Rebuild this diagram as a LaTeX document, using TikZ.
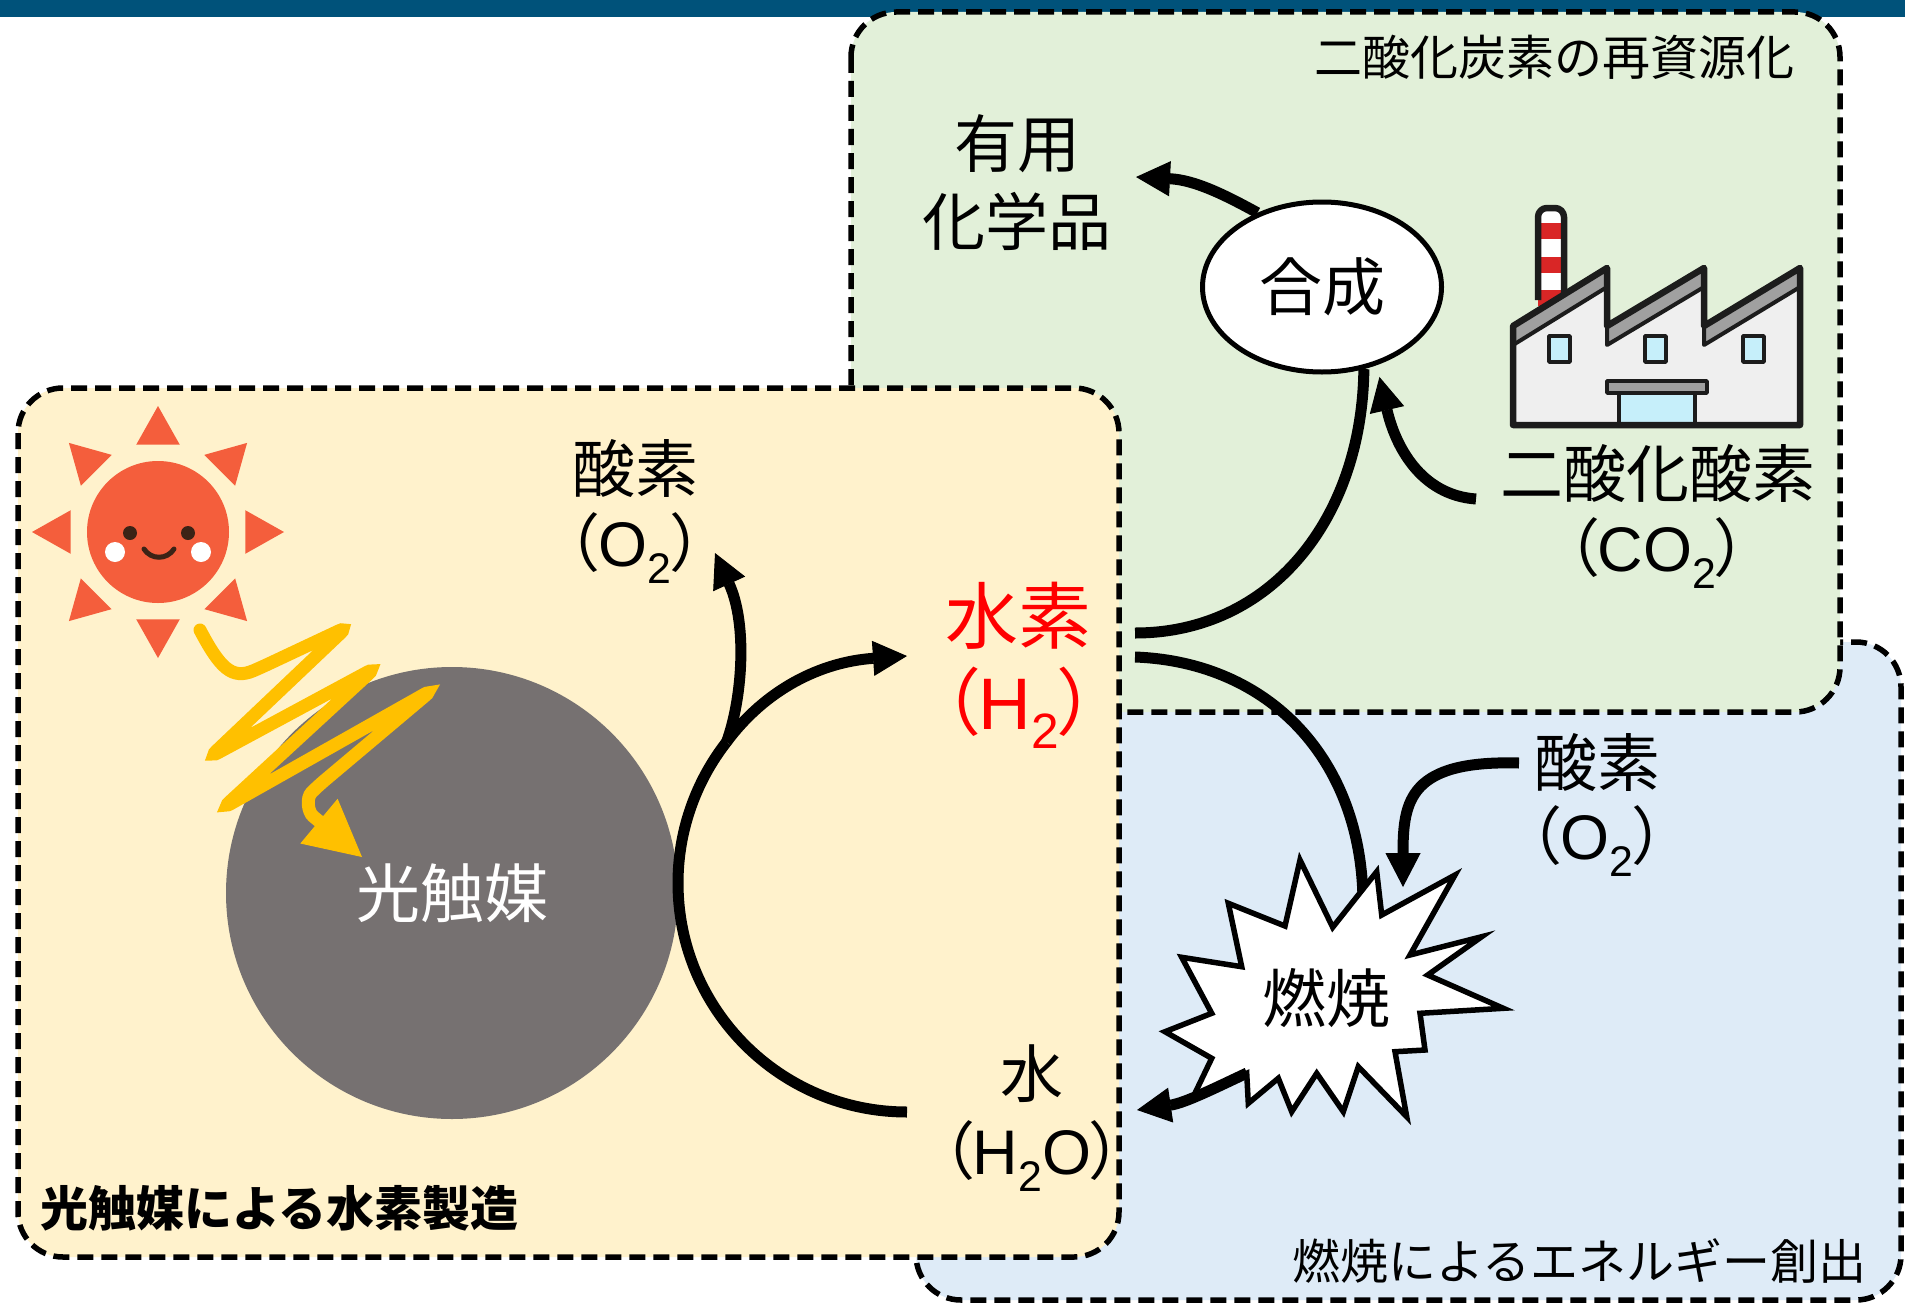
\documentclass[tikz,border=0pt]{standalone}
\usepackage{fontspec}
\setmainfont{Noto Sans CJK JP}
\newfontfamily\latin{Liberation Sans}
\newfontfamily\jpprop[RawFeature=+palt]{Noto Sans CJK JP}
\usetikzlibrary{arrows.meta,calc,shapes.geometric}
\pgfdeclarelayer{back}
\pgfdeclarelayer{mid}
\pgfdeclarelayer{links}
\pgfsetlayers{back,mid,links,main}

\definecolor{barblue}{HTML}{00527A}
\definecolor{zoneyellow}{HTML}{FFF2CC}
\definecolor{zonegreen}{HTML}{E2F0D9}
\definecolor{zoneblue}{HTML}{DEEBF7}
\definecolor{catgray}{HTML}{767171}
\definecolor{sunred}{HTML}{F45E3C}
\definecolor{sunface}{HTML}{3B2316}
\definecolor{rayyellow}{HTML}{FFC000}
\definecolor{ink}{HTML}{1C1C1C}
\definecolor{wall}{HTML}{EFEFEF}
\definecolor{roofgray}{HTML}{A0A0A0}
\definecolor{glass}{HTML}{C6EFFA}
\definecolor{stripe}{HTML}{D92626}

\newcommand\fs[1]{\fontsize{#1}{#1}\selectfont}
\newcommand\lpar{{\jpprop （}}
\newcommand\rpar{{\jpprop ）}}
\newcommand\lowidx[1]{\raisebox{-0.27em}{\scalebox{0.68}{#1}}}

\begin{document}
\begin{tikzpicture}[x=1pt,y=-1pt,
  zone/.style={draw=black, line width=5.5pt, dash pattern=on 16pt off 8pt, rounded corners=45pt},
  flow/.style={draw=black, line width=11pt},
  head/.style={-{Triangle[length=34pt,width=35pt,line width=1pt]}},
  lbl/.style={inner sep=0pt, anchor=base, font=\fs{63}},
  title/.style={inner sep=0pt, anchor=base, font=\fs{48}},
  factory/.style={draw=ink, line join=round}]

\useasboundingbox (0,0) rectangle (1905,1303);

% ---------- zones ----------
\begin{pgfonlayer}{back}
  \fill[white] (0,0) rectangle (1905,1303);
  \fill[barblue] (0,0) rectangle (1905,17);
  \draw[zone, fill=zoneblue] (916,642) rectangle (1901,1300);
  \draw[zone, fill=zonegreen] (851,12) rectangle (1840,712);
  \draw[zone, fill=zoneyellow] (18,388) rectangle (1119,1257);
\end{pgfonlayer}

\node[title] (tGreen) at (1554,76) {二酸化炭素の再資源化};
\node[title, anchor=base west, font=\fs{48}\bfseries] (tYellow) at (40,1226) {光触媒による水素製造};
\node[title, anchor=base east] (tBlue) at (1867,1279) {燃焼によるエネルギー創出};

% ---------- sun, catalyst, light ----------
\begin{pgfonlayer}{mid}
  \coordinate (sun) at (158,532);
  \foreach \a in {0,45,...,315}
    \fill[sunred] ($(sun)+(\a:126)$) -- ($(sun)+(\a+14:90)$) -- ($(sun)+(\a-14:90)$) -- cycle;
  \fill[sunred] (sun) circle[radius=71];
  \fill[sunface] (130,533) circle[radius=7];
  \fill[sunface] (188,533) circle[radius=7];
  \fill[white] (115,552) circle[radius=10];
  \fill[white] (201,552) circle[radius=10];
  \draw[sunface, line width=5pt, line cap=round] (144,549) .. controls (151,560) and (167,560) .. (174,549);

  \node[circle, fill=catgray, minimum size=452pt, inner sep=0pt, text=white, font=\fs{64}] (cat) at (452,893) {光触媒};

  \draw[rayyellow, line width=13pt, rounded corners=9pt, line cap=round,
        -{Triangle[length=56pt,width=58pt,line width=1pt]}]
    (200,630) .. controls (220,668) and (232,680) .. (262,667)
    -- (347,627) -- (210,757) -- (375,668) -- (223,808) -- (432,690) -- (318,786)
    .. controls (306,798) and (308,812) .. (320,822) -- (362,857);
\end{pgfonlayer}

% ---------- labels ----------
\node[lbl] (o2a) at (635,492) {酸素};
\node[lbl] (o2b) at (635,566) {\lpar{\latin O\lowidx{2}}\rpar};
\node[lbl, font=\fs{73}, text=red] (h2a) at (1018,643) {水素};
\node[lbl, font=\fs{73}, text=red] (h2b) at (1019,729) {\lpar{\latin H\lowidx{2}}\rpar};
\node[lbl] (wa) at (1032,1097) {水};
\node[lbl] (wb) at (1032,1174) {\lpar{\latin H\lowidx{2}O}\rpar};
\node[lbl] (chem1) at (1017,167) {有用};
\node[lbl] (chem2) at (1017,245) {化学品};
\node[lbl] (co2a) at (1658,497) {二酸化酸素};
\node[lbl] (co2b) at (1657,571) {\lpar{\latin CO\lowidx{2}}\rpar};
\node[lbl] (o2c) at (1597,786) {酸素};
\node[lbl] (o2d) at (1597,859) {\lpar{\latin O\lowidx{2}}\rpar};

\node[ellipse, draw=black, line width=5pt, fill=white, minimum width=239pt,
      minimum height=170pt, inner sep=0pt, font=\fs{63}] (syn) at (1322,287) {合成};

% ---------- factory ----------
\fill[white, rounded corners=9pt] (1538,300) -- (1538,208) -- (1564,208) -- (1564,300) -- cycle;
\foreach \y in {223,257,290}
  \fill[stripe] (1538,\y) rectangle (1564,\y+16);
\draw[factory, line width=6.5pt, rounded corners=9pt] (1538,300) -- (1538,208) -- (1564,208) -- (1564,300);
\fill[wall] (1513,425) -- (1513,326) -- (1607,268) -- (1607,326) -- (1704,268)
  -- (1704,326) -- (1800,268) -- (1800,425) -- cycle;
\foreach \x/\w in {1513/94,1607/97,1704/96}
  \filldraw[factory, fill=roofgray, line width=4pt] (\x,326) -- (\x+\w,268) -- (\x+\w,287) -- (\x,345) -- cycle;
\foreach \x in {1549,1645,1743}
  \filldraw[factory, fill=glass, line width=3.5pt] (\x,336) rectangle (\x+21,362);
\filldraw[factory, fill=glass, line width=3.5pt] (1619,393) rectangle (1695,425);
\filldraw[factory, fill=roofgray, line width=3.5pt] (1607,381) rectangle (1707,393);
\draw[factory, line width=6.5pt] (1513,425) -- (1513,326) -- (1607,268) -- (1607,326) -- (1704,268)
  -- (1704,326) -- (1800,268) -- (1800,425) -- cycle;

% ---------- combustion burst ----------
\coordinate (burst) at (1326,998);
\filldraw[draw=black, fill=white, line width=5.5pt, line join=miter]
  (1300,860) -- (1332.7,927.3) -- (1376.7,871.7) -- (1381.7,915) -- (1455,875)
  -- (1410,955) -- (1481.7,936.7) -- (1427.7,975) -- (1503.3,1008.3) -- (1420,1013.3)
  -- (1425,1050) -- (1395,1051.7) -- (1406.7,1116.7) -- (1358.3,1066.7) -- (1343.3,1111.7)
  -- (1316.7,1073.3) -- (1291.7,1111.7) -- (1278.3,1078.3) -- (1248.3,1103.3) -- (1246.7,1073.3)
  -- (1193.3,1096.7) -- (1211.7,1058.3) -- (1165,1031.7) -- (1211.7,1013.3) -- (1181.7,957.3)
  -- (1241.7,966.7) -- (1228.3,903.3) -- (1285,926) -- cycle;
\node[inner sep=0pt, font=\fs{64}] (burn) at (burst) {燃焼};

% ---------- connector ends ----------
\coordinate (wEnd) at (907,1112);
\coordinate (o2Tip) at (715,553);
\coordinate (h2Tip) at (907,656);
\coordinate (h2Up) at (1135,633);
\coordinate (h2Down) at (1135,657);
\coordinate (co2Out) at (1476,499);
\coordinate (chemTip) at (1136,177);
\coordinate (o2In) at (1519,763);
\coordinate (burnTop) at (1363,902);
\coordinate (burnIn) at (1403,887);
\coordinate (burnOut) at (1247,1073);
\coordinate (waterTip) at (1137,1110);

\begin{pgfonlayer}{links}
  % water split into oxygen and hydrogen
  \draw[flow] (wEnd) arc[start angle=90, end angle=218, radius=229] coordinate (fork);
  \draw[flow, head] (fork) .. controls (742,700) and (748,625) .. (o2Tip);
  \draw[flow, head] (fork) .. controls (765,690) and (820,662) .. (h2Tip);
  % hydrogen to synthesis and combustion
  \draw[flow] (h2Up) .. controls (1270,633) and (1362,520) .. (syn.-63);
  \draw[flow] (h2Down) .. controls (1270,662) and (1362,760) .. (burnTop);
  % carbon dioxide into synthesis, products out
  \draw[flow, head, shorten >=12pt] (co2Out) .. controls (1420,495) and (1395,445) .. (syn.-55);
  \draw[flow, head] (syn.131) .. controls (1225,195) and (1195,180) .. (chemTip);
  % oxygen into combustion
  \draw[flow, head] (o2In) .. controls (1410,760) and (1403,800) .. (burnIn);
\end{pgfonlayer}

% combustion back to water
\draw[flow, head] (burnOut) .. controls (1215,1088) and (1185,1103) .. (waterTip);

\end{tikzpicture}
\end{document}
